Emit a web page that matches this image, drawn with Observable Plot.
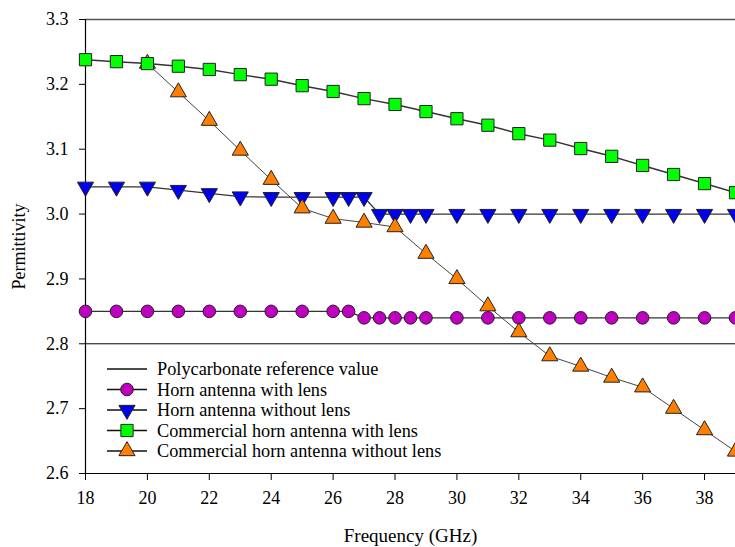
<!DOCTYPE html>
<html>
<head>
<meta charset="utf-8">
<script src="https://cdn.jsdelivr.net/npm/d3@7"></script>
<script src="https://cdn.jsdelivr.net/npm/@observablehq/plot@0.6"></script>
<style>
  html, body { margin: 0; padding: 0; background: white; }
  #wrap { position: relative; width: 735px; height: 547px; overflow: hidden; }
  #wrap svg, #wrap svg g, #wrap svg text { font-family: "Liberation Serif", "Times New Roman", serif !important; }
  #legend { position: absolute; left: 0; top: 0; pointer-events: none; }
</style>
</head>
<body>
<div id="wrap"></div>
<script>
// ---- data ----
const xTicks = [18, 20, 22, 24, 26, 28, 30, 32, 34, 36, 38];
const yTicks = [2.6, 2.7, 2.8, 2.9, 3.0, 3.1, 3.2, 3.3];
const referenceValue = 2.8;

const freqCommWith = [18,19,20,21,22,23,24,25,26,27,28,29,30,31,32,33,34,35,36,37,38,39];
const commercialWithLens = [3.238,3.235,3.232,3.228,3.223,3.215,3.208,3.198,3.189,3.178,3.169,3.158,3.147,3.137,3.124,3.114,3.101,3.089,3.075,3.061,3.047,3.033];
const freqCommWithout = [20,21,22,23,24,25,26,27,28,29,30,31,32,33,34,35,36,37,38,39];
const commercialWithoutLens = [3.232,3.188,3.144,3.098,3.053,3.009,2.993,2.987,2.980,2.939,2.900,2.858,2.818,2.781,2.765,2.748,2.733,2.700,2.667,2.634];

const freqHorn = [18,19,20,21,22,23,24,25,26,26.5,27,27.5,28,28.5,29,30,31,32,33,34,35,36,37,38,39];
const hornWithLens = [2.85,2.85,2.85,2.85,2.85,2.85,2.85,2.85,2.85,2.85,2.84,2.84,2.84,2.84,2.84,2.84,2.84,2.84,2.84,2.84,2.84,2.84,2.84,2.84,2.84];
const hornWithoutLens = [3.042,3.042,3.042,3.037,3.032,3.027,3.026,3.026,3.026,3.026,3.026,3.0,3.0,3.0,3.0,3.0,3.0,3.0,3.0,3.0,3.0,3.0,3.0,3.0,3.0];

const seriesNames = [
  "Polycarbonate reference value",
  "Horn antenna with lens",
  "Horn antenna without lens",
  "Commercial horn antenna with lens",
  "Commercial horn antenna without lens"
];

// ---- styles ----
const colors = {
  hornWith: "#c000c0",
  hornWithout: "#0000f0",
  commWith: "#00ff00",
  commWithout: "#ff8000"
};
const FONT = "Liberation Serif";

const triangleDown = {
  draw(context, size) {
    const y = -Math.sqrt(size / (Math.sqrt(3) * 3));
    context.moveTo(0, -y * 2);
    context.lineTo(-Math.sqrt(3) * y, y);
    context.lineTo(Math.sqrt(3) * y, y);
    context.closePath();
  }
};

const toRows = (xs, ys) => xs.map((x, i) => ({x, y: ys[i]}));
const dHornWith = toRows(freqHorn, hornWithLens);
const dHornWithout = toRows(freqHorn, hornWithoutLens);
const dCommWith = toRows(freqCommWith, commercialWithLens);
const dCommWithout = toRows(freqCommWithout, commercialWithoutLens);

const R_CIRCLE = 6.3, R_SQUARE = 6.9, R_TRI = 6.0;

const chart = Plot.plot({
  width: 735,
  height: 547,
  marginLeft: 85,
  marginRight: 0,
  marginTop: 19,
  marginBottom: 74,
  x: {domain: [18, 39]},
  y: {domain: [2.6, 3.3]},
  style: {fontFamily: FONT, fontSize: "18px", color: "#000", background: "white", overflow: "hidden"},
  marks: [
    Plot.axisX({ticks: xTicks, tickSize: 7, tickPadding: 11, tickFormat: d3.format("d"),
      fontSize: 18, fontFamily: FONT, fill: "#000", label: null}),
    Plot.axisY({ticks: yTicks, tickSize: 6, tickPadding: 11, tickFormat: d3.format(".1f"),
      fontSize: 18, fontFamily: FONT, fill: "#000", label: null}),
    Plot.axisX({ticks: [], label: "Frequency (GHz)", labelAnchor: "center", labelOffset: 68, labelArrow: "none", fontSize: 19, fontFamily: FONT}),
    Plot.axisY({ticks: [], label: "Permittivity", labelAnchor: "center", labelOffset: 73, labelArrow: "none", fontSize: 18, fontFamily: FONT}),
    Plot.ruleY([3.3], {stroke: "#555", strokeWidth: 1.5}),
    Plot.ruleY([2.6], {stroke: "#000", strokeWidth: 1.2}),
    Plot.ruleX([18], {stroke: "#000", strokeWidth: 1.2}),
    Plot.ruleY([referenceValue], {stroke: "#000", strokeWidth: 1}),
    // lines
    Plot.line(dHornWith, {x: "x", y: "y", stroke: "#333", strokeWidth: 1.3}),
    Plot.line(dHornWithout, {x: "x", y: "y", stroke: "#333", strokeWidth: 1.3}),
    Plot.line(dCommWithout, {x: "x", y: "y", stroke: "#444", strokeWidth: 1}),
    Plot.line(dCommWith, {x: "x", y: "y", stroke: "#333", strokeWidth: 1.5}),
    // markers
    Plot.dot(dHornWith, {x: "x", y: "y", symbol: "circle", r: R_CIRCLE, fill: colors.hornWith, stroke: "#222", strokeWidth: 1}),
    Plot.dot(dHornWithout, {x: "x", y: "y", symbol: triangleDown, r: R_TRI, fill: colors.hornWithout, stroke: "#222", strokeWidth: 1}),
    Plot.dot(dCommWithout, {x: "x", y: "y", symbol: "triangle", r: R_TRI, fill: colors.commWithout, stroke: "#222", strokeWidth: 1}),
    Plot.dot(dCommWith, {x: "x", y: "y", symbol: "square", r: R_SQUARE, fill: colors.commWith, stroke: "#222", strokeWidth: 1})
  ]
});
document.getElementById("wrap").appendChild(chart);

// ---- legend (overlay) ----
const legendItems = [
  {name: seriesNames[0], symbol: null, fill: null, r: 0},
  {name: seriesNames[1], symbol: d3.symbolCircle, fill: colors.hornWith, r: R_CIRCLE},
  {name: seriesNames[2], symbol: triangleDown, fill: colors.hornWithout, r: R_TRI},
  {name: seriesNames[3], symbol: d3.symbolSquare, fill: colors.commWith, r: R_SQUARE},
  {name: seriesNames[4], symbol: d3.symbolTriangle, fill: colors.commWithout, r: R_TRI}
];
const lg = d3.select("#wrap").append("svg").attr("id", "legend").attr("width", 735).attr("height", 547);
const rows = lg.selectAll("g").data(legendItems).join("g")
  .attr("transform", (d, i) => `translate(0, ${369 + i * 20.5})`);
rows.append("line").attr("x1", 107).attr("x2", 147).attr("y1", 0).attr("y2", 0)
  .attr("stroke", "#111").attr("stroke-width", 1.3);
rows.filter(d => d.symbol).append("path")
  .attr("transform", "translate(127,0)")
  .attr("d", d => d3.symbol(d.symbol, Math.PI * d.r * d.r)())
  .attr("fill", d => d.fill).attr("stroke", "#222").attr("stroke-width", 1);
rows.append("text").attr("x", 157).attr("y", 0).attr("dy", "0.33em")
  .attr("font-size", 18.3).attr("fill", "#000")
  .text(d => d.name);
</script>
</body>
</html>
